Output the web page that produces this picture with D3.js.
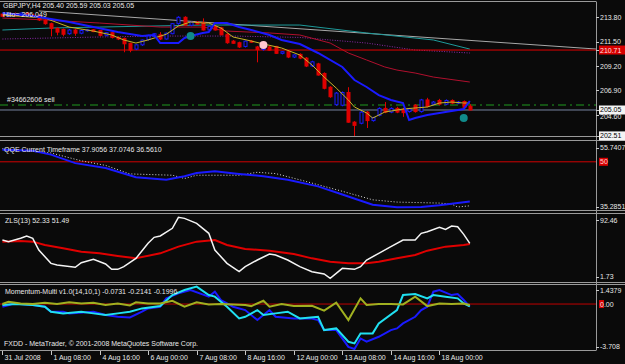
<!DOCTYPE html>
<head>
  <meta charset="utf-8" />
  <script src="https://d3js.org/d3.v7.min.js"></script>
  <style>
    body { margin: 0; background: #0a0a0a; }
    svg { display: block; }
    text { font-family: "Liberation Sans", Arial, sans-serif; font-size: 7px; fill: #e8e8e8; }
  </style>
</head>
<body>
<script>
  // ---- price bars (GBPJPY H4), 78 bars from 31 Jul 00:00 to 18 Aug 20:00
  var opens = [214.10,213.90,214.15,213.95,214.20,214.00,213.95,213.55,213.20,212.75,
    212.65,212.25,212.60,212.30,212.55,212.62,212.55,212.10,212.35,211.90,
    211.80,211.35,210.80,211.20,211.70,212.00,212.15,211.75,212.25,213.20,
    213.80,213.05,213.35,213.30,212.60,212.95,212.80,212.20,211.55,211.40,
    211.05,211.55,211.00,210.75,211.00,211.05,210.40,210.55,210.05,210.30,
    209.95,209.20,209.40,208.50,207.20,205.55,205.50,206.70,203.90,203.80,
    204.85,204.05,204.55,205.20,204.85,205.20,205.10,204.90,205.50,204.90,
    206.00,205.60,205.95,205.60,205.95,205.70,205.85,205.40];
  var highs = [214.20,214.25,214.25,214.25,214.30,214.15,214.05,213.75,213.30,212.85,
    212.75,212.70,212.70,212.65,212.70,212.70,212.60,212.40,212.45,212.00,
    211.90,211.40,211.25,211.70,212.15,212.30,212.40,212.35,213.25,213.90,
    213.90,213.45,213.45,213.70,213.00,213.05,212.90,212.30,211.65,211.50,
    211.60,211.65,211.10,211.05,211.10,211.10,210.60,210.65,210.30,210.40,
    210.05,209.70,209.50,208.60,207.30,206.75,206.80,207.20,204.00,204.95,
    204.95,204.40,205.30,205.80,205.30,205.35,205.25,205.25,205.60,206.10,
    206.20,205.90,206.10,206.05,206.05,205.90,205.95,205.59];
  var lows = [213.85,213.85,213.90,213.90,213.95,213.80,213.45,213.10,212.00,212.10,
    212.00,212.15,212.05,212.20,212.45,212.40,212.00,212.00,211.80,211.65,
    210.50,210.50,210.70,211.10,211.60,211.95,211.65,211.70,212.20,213.10,
    213.00,212.95,213.10,212.55,212.50,212.55,212.10,211.30,211.30,210.90,
    210.95,211.40,209.55,210.65,210.65,210.35,210.30,209.95,209.95,209.85,
    209.10,209.10,208.30,207.00,206.20,205.45,205.40,203.85,202.40,203.70,
    203.35,203.95,204.45,204.75,204.75,204.75,204.40,204.80,204.80,204.80,
    205.30,205.50,205.50,205.50,205.60,205.60,205.20,205.03];
  var closes = [213.90,214.15,213.95,214.20,214.00,213.95,213.55,213.20,212.75,212.40,
    212.20,212.60,212.30,212.55,212.62,212.45,212.10,212.35,211.90,211.75,
    211.30,210.70,211.20,211.65,212.10,212.25,211.75,212.30,213.20,213.80,
    213.05,213.35,213.15,212.60,212.95,212.60,212.15,211.40,211.35,211.00,
    211.55,211.45,210.75,210.95,210.70,210.40,210.55,210.05,210.25,209.95,
    209.20,209.60,208.35,207.10,206.30,206.65,206.70,203.90,203.60,204.85,
    204.05,204.35,205.20,204.85,205.20,204.85,204.80,205.15,204.90,206.00,
    205.40,205.80,205.60,205.95,205.70,205.80,205.30,205.05];

  // moving averages as [bar, price]
  var maFast = [[0,214.02],[7,213.73],[11,212.88],[15,212.5],[18,212.13],[20,211.66],[22,211.37],[24,211.66],
    [27,212.2],[29,212.98],[31,213.36],[33,213.26],[34,213.26],[36,212.79],[38,211.94],[41,211.56],[43,211.28],
    [46,210.9],[49,210.24],[51,209.3],[53,208.16],[55,207.12],[57,205.99],[58,205.33],[60,204.77],[61,204.29],
    [62,204.57],[63,204.86],[64,204.95],[66,205.14],[68,205.24],[70,205.33],[72,205.71],[74,205.8],[76,205.71],[77,205.71]];
  var maMid = [[0,214.2],[5,213.92],[11,213.36],[15,212.88],[19,212.41],[23,212.03],[25,212.13],[26,211.37],
    [29,211.37],[30,211.85],[31,212.03],[33,212.32],[34,212.41],[35,213.26],[37,213.26],[39,212.88],[41,212.6],
    [44,212.13],[46,211.66],[49,211.28],[52,210.43],[56,209.11],[58,207.88],[60,207.22],[62,206.46],[64,205.99],
    [66,205.71],[67,204.1],[68,204.29],[70,204.57],[73,204.86],[76,205.14],[77,205.9]];
  var maSlow = [[0,213.73],[7,213.55],[16,213.26],[26,212.88],[33,212.88],[37,212.5],[44,212.32],[49,212.13],
    [54,211.37],[57,210.43],[60,209.77],[63,209.11],[65,208.82],[68,208.54],[71,208.16],[77,207.69]];
  var maTeal = [[0,212.6],[8,212.79],[16,212.88],[33,213.07],[41,213.07],[49,213.07],[60,212.32],[71,211.66],[77,210.8]];
  var maPurple = [[0,211.75],[16,211.94],[26,212.03],[38,212.03],[49,211.9],[54,211.66],[60,211.37],[68,210.71],[77,210.43]];
  var trendLine = [[6,214.4],[77,211.62]];
  var signalDots = [{bar:31, price:212.03, color:"#108a8a"}, {bar:43, price:211.18, color:"#ffc8d0"}, {bar:76, price:204.29, color:"#108a8a"}];

  var hLine = 210.71, orderLine = 205.52, bidLine = 205.05;
  var priceTicks = [213.80, 211.50, 209.20, 206.90, 204.60];

  // QQE
  var qqeMain = [[0,53.7],[5,53.4],[8,52.2],[12,49.6],[17,48.1],[22,45.3],[27,44.5],[30,45.6],[32,46.6],[35,47.1],
    [39,46.3],[43,45.6],[47,44.5],[52,42.5],[56,40.0],[61,36.9],[65,36.1],[69,36.2],[72,36.7],[74,37.2],[77,37.9]];
  var qqeSlow = [[0,54.0],[8,52.7],[13,50.3],[17,48.9],[21,46.3],[28,45.9],[30,44.9],[32,45.9],[39,45.9],[42,46.8],
    [45,46.4],[49,44.5],[52,43.0],[56,41.0],[61,38.4],[65,37.7],[72,37.4],[74,37.1],[75,36.2],[77,36.56]];

  // ZLS(13)
  var zlsFast = [[0,57.0],[1,54.7],[3,59.4],[4,62.7],[5,59.4],[6,42.8],[8,23.9],[9,21.6],[12,18.3],[13,24.9],[15,29.6],
    [17,23.0],[18,15.4],[19,15.4],[20,19.2],[22,31.0],[24,52.3],[25,60.8],[26,62.7],[28,73.6],[29,89.2],[30,87.7],
    [32,80.6],[34,66.5],[35,42.8],[37,23.9],[39,12.1],[40,19.2],[42,28.7],[44,37.2],[45,35.8],[47,28.7],[49,19.2],
    [51,12.1],[53,8.8],[54,2.67],[56,16.8],[58,15.4],[59,19.2],[60,28.7],[62,38.1],[64,47.6],[66,57.0],[68,57.0],
    [69,66.5],[70,68.8],[72,75.0],[73,72.1],[74,76.9],[75,75.9],[76,65.0],[77,52.33]];
  var zlsSlow = [[0,54.7],[3,55.6],[5,54.7],[7,49.9],[10,45.2],[13,40.5],[16,38.1],[19,34.3],[22,31.0],[26,38.1],
    [29,47.6],[32,54.7],[35,57.0],[37,49.9],[40,44.3],[44,41.9],[48,37.2],[51,31.0],[54,26.3],[57,23.9],[60,23.9],
    [62,26.3],[65,31.0],[68,35.8],[70,41.9],[73,47.6],[76,50.0],[77,51.49]];

  // Momentum-Multi
  var momSlow = [[0,0.0],[1,0.19],[3,0.05],[5,0.0],[7,0.11],[9,0.0],[11,0.14],[13,0.05],[15,0.11],[17,-0.08],[19,0.05],
    [21,-0.11],[22,0.14],[24,0.05],[26,0.05],[28,0.27],[30,-0.22],[32,0.14],[34,-0.03],[36,0.0],[38,-0.03],[40,-0.08],
    [41,-0.17],[43,0.27],[44,-0.22],[46,0.0],[48,-0.17],[51,-0.14],[53,-0.55],[55,0.11],[57,-1.32],[59,0.47],[60,-0.08],
    [62,0.0],[64,0.0],[66,-0.03],[68,0.61],[70,-0.17],[72,0.05],[74,0.0],[76,0.05],[77,-0.0731]];
  var momBlue = [[0,-0.22],[2,0.05],[5,-0.08],[7,-0.22],[8,-0.63],[10,-0.63],[11,-0.77],[15,-0.63],[17,-0.91],[19,-1.05],
    [21,-1.10],[23,-0.63],[24,-0.36],[26,-0.22],[27,0.47],[29,0.88],[31,1.16],[34,0.61],[35,1.02],[36,0.33],[38,-0.22],
    [40,-0.50],[42,-1.32],[44,-0.50],[45,-1.05],[48,-1.19],[51,-1.19],[52,-1.32],[53,-2.15],[55,-2.15],[57,-3.53],
    [58,-3.708],[59,-2.84],[60,-3.11],[62,-2.70],[64,-2.15],[65,-2.01],[66,-1.60],[68,-1.05],[69,-0.50],[70,-0.22],
    [71,1.02],[72,1.16],[74,0.74],[75,0.83],[76,0.33],[77,-0.2141]];
  var momCyan = [[0,-0.08],[2,0.0],[5,-0.08],[7,-0.22],[8,-0.63],[10,-0.77],[13,-0.63],[15,-0.77],[17,-0.91],[19,-0.77],
    [21,-0.63],[23,-0.36],[26,-0.17],[28,0.74],[30,1.16],[32,1.4379],[34,0.74],[35,0.61],[37,-0.22],[39,-1.19],[40,-1.05],
    [42,-0.50],[43,-0.91],[45,-0.77],[47,-0.63],[49,-1.19],[52,-1.05],[53,-2.15],[55,-2.01],[57,-3.11],[58,-3.25],
    [59,-2.42],[61,-2.42],[62,-1.60],[65,-0.50],[66,0.74],[68,0.83],[70,0.47],[71,0.74],[73,0.61],[75,0.47],[76,0.05],[77,-0.1996]];

  var timeLabels = ["31 Jul 2008","1 Aug 08:00","4 Aug 16:00","6 Aug 00:00","7 Aug 08:00","8 Aug 16:00",
    "12 Aug 00:00","13 Aug 08:00","14 Aug 16:00","18 Aug 00:00"];
  var timeLabelBars = [0,8,16,24,32,40,48,56,64,72];

  // ---- layout
  var width = 625, height = 364, plotRight = 596;
  var svg = d3.select("body").append("svg").attr("width", width).attr("height", height);
  svg.append("rect").attr("width", width).attr("height", height).attr("fill", "#0a0a0a");

  var x = d3.scaleLinear().domain([0, 77]).range([2.4, 469.8]);
  var yMain = d3.scaleLinear().domain([202.51, 215.15]).range([136.9, 3]);
  var yQqe = d3.scaleLinear().domain([35.2851, 55.7407]).range([210, 143]);
  var yZls = d3.scaleLinear().domain([1.73, 92.46]).range([279, 215]);
  var yMom = d3.scaleLinear().domain([-3.708, 1.4379]).range([349, 286.6]);

  var panels = [["main", 3, 136.5], ["qqe", 141.5, 211], ["zls", 213.5, 282.5], ["mom", 284.5, 350.5]];
  var defs = svg.append("defs");
  var layer = {};
  panels.forEach(function (p) {
    defs.append("clipPath").attr("id", "clip-" + p[0])
      .append("rect").attr("x", 0).attr("y", p[1]).attr("width", plotRight).attr("height", p[2] - p[1]);
    layer[p[0]] = svg.append("g").attr("clip-path", "url(#clip-" + p[0] + ")");
  });

  function drawLine(g, data, yScale, color, w, dash) {
    var line = d3.line().x(function (d) { return x(d[0]); }).y(function (d) { return yScale(d[1]); });
    g.append("path").datum(data).attr("d", line).attr("fill", "none")
      .attr("stroke", color).attr("stroke-width", w).attr("stroke-dasharray", dash || null);
  }
  function hRule(g, y, color, w, dash) {
    g.append("line").attr("x1", 0).attr("x2", plotRight).attr("y1", y).attr("y2", y)
      .attr("stroke", color).attr("stroke-width", w).attr("stroke-dasharray", dash || null);
  }

  // ---- main window
  var m = layer.main;
  // trend line extended to the right edge
  var slope = (trendLine[1][1] - trendLine[0][1]) / (trendLine[1][0] - trendLine[0][0]);
  var edgeBar = x.invert(plotRight);
  drawLine(m, [trendLine[0], [edgeBar, trendLine[0][1] + slope * (edgeBar - trendLine[0][0])]], yMain, "#a8a8a8", 1);
  drawLine(m, maTeal, yMain, "#1e9a9a", 1);
  drawLine(m, maPurple, yMain, "#8a2aa8", 1, "1,1.5");
  drawLine(m, maSlow, yMain, "#b0102e", 1);
  hRule(m, yMain(hLine), "#e00000", 1);
  hRule(m, yMain(orderLine), "#1f9a1f", 1, "8,4,2,4");
  hRule(m, yMain(bidLine), "#7884a0", 1);

  var bars = d3.range(opens.length).map(function (i) {
    return { i: i, o: opens[i], h: highs[i], l: lows[i], c: closes[i] };
  });
  var cg = m.selectAll("g.bar").data(bars).enter().append("g");
  cg.append("line")
    .attr("x1", function (d) { return Math.round(x(d.i)) + 0.5; })
    .attr("x2", function (d) { return Math.round(x(d.i)) + 0.5; })
    .attr("y1", function (d) { return yMain(d.h); })
    .attr("y2", function (d) { return yMain(d.l); })
    .attr("stroke", function (d) { return d.c >= d.o ? "#1a1aff" : "#e00000"; });
  cg.append("rect")
    .attr("x", function (d) { return Math.round(x(d.i)) - 1; })
    .attr("y", function (d) { return yMain(Math.max(d.o, d.c)); })
    .attr("width", 3)
    .attr("height", function (d) { return Math.max(1, Math.abs(yMain(d.o) - yMain(d.c))); })
    .attr("fill", function (d) { return d.c >= d.o ? "#0a0a0a" : "#e00000"; })
    .attr("stroke", function (d) { return d.c >= d.o ? "#1a1aff" : "#e00000"; })
    .attr("stroke-width", 1);

  drawLine(m, maFast, yMain, "#c8b428", 1);
  drawLine(m, maMid, yMain, "#1a1aff", 2);

  m.selectAll("circle.sig").data(signalDots).enter().append("circle")
    .attr("cx", function (d) { return x(d.bar); })
    .attr("cy", function (d) { return yMain(d.price); })
    .attr("r", 4).attr("fill", function (d) { return d.color; });

  // ---- QQE window
  var q = layer.qqe;
  hRule(q, yQqe(50), "#d00000", 1);
  drawLine(q, qqeSlow, yQqe, "#d8d8d8", 1, "1,2");
  drawLine(q, qqeMain, yQqe, "#1a1aff", 2);

  // ---- ZLS window
  var z = layer.zls;
  drawLine(z, zlsSlow, yZls, "#e00000", 2);
  drawLine(z, zlsFast, yZls, "#f4f4f4", 1.5);

  // ---- Momentum window
  var mo = layer.mom;
  hRule(mo, yMom(0), "#c00000", 1);
  drawLine(mo, momBlue, yMom, "#1a1aff", 2);
  drawLine(mo, momCyan, yMom, "#20e0f0", 2);
  drawLine(mo, momSlow, yMom, "#a0b020", 2);

  // ---- frames and separators
  var frame = svg.append("g").attr("stroke", "#9a9a9a").attr("stroke-width", 1).attr("fill", "none");
  frame.append("line").attr("x1", 0).attr("x2", plotRight).attr("y1", 1.5).attr("y2", 1.5);
  [[136.5, 140.5], [210.5, 213.5], [282.5, 284.5]].forEach(function (s) {
    s.forEach(function (yy) {
      frame.append("line").attr("x1", 0).attr("x2", width).attr("y1", yy).attr("y2", yy);
    });
  });
  frame.append("line").attr("x1", 0).attr("x2", plotRight).attr("y1", 350.5).attr("y2", 350.5);
  frame.append("line").attr("x1", plotRight + 0.5).attr("x2", plotRight + 0.5).attr("y1", 1.5).attr("y2", 350.5);

  // ---- right-hand price labels
  function axisLabel(y, txt, box, boxText, dy) {
    svg.append("line").attr("x1", plotRight).attr("x2", plotRight + 3).attr("y1", Math.round(y) + 0.5).attr("y2", Math.round(y) + 0.5)
      .attr("stroke", "#c8c8c8");
    if (box) {
      svg.append("rect").attr("x", plotRight + 3).attr("y", y - 4.5).attr("width", 27).attr("height", 9).attr("fill", box);
    }
    svg.append("text").attr("x", plotRight + 4).attr("y", y + 2.5 + (dy || 0)).text(txt)
      .style("fill", boxText || "#e8e8e8");
  }
  priceTicks.forEach(function (p) { axisLabel(yMain(p), p.toFixed(2), null, null, p === 204.60 ? 1.5 : 0); });
  axisLabel(yMain(hLine), hLine.toFixed(2), "#d80000", "#ffe0e0");
  axisLabel(yMain(bidLine), bidLine.toFixed(2), "#f4f4f4", "#000");
  axisLabel(yMain(202.51) - 1, "202.51", "#f4f4f4", "#000");

  axisLabel(147.5, "55.7407");
  svg.append("rect").attr("x", plotRight + 3).attr("y", yQqe(50) - 4).attr("width", 9).attr("height", 8).attr("fill", "#d80000");
  svg.append("text").attr("x", plotRight + 4).attr("y", yQqe(50) + 2.5).text("50").style("fill", "#ffd0d0");
  axisLabel(206.5, "35.2851");

  axisLabel(220, "92.46");
  axisLabel(276.5, "1.73");

  axisLabel(290, "1.4379");
  svg.append("rect").attr("x", plotRight + 3).attr("y", yMom(0) - 4).attr("width", 5).attr("height", 8).attr("fill", "#d80000");
  svg.append("text").attr("x", plotRight + 4).attr("y", yMom(0) + 2.5).text("0.00");
  axisLabel(346.5, "-3.708");

  // ---- time axis
  timeLabelBars.forEach(function (b, k) {
    var tx = Math.round(x(b)) + 0.5;
    svg.append("line").attr("x1", tx).attr("x2", tx).attr("y1", 351).attr("y2", 355).attr("stroke", "#c8c8c8");
    svg.append("text").attr("x", tx + 2).attr("y", 360).text(timeLabels[k]);
  });

  // ---- window captions
  svg.append("text").attr("x", 3).attr("y", 8).text("GBPJPY,H4  205.40 205.59 205.03 205.05");
  svg.append("text").attr("x", 3).attr("y", 17).text("Hlto=  206.049");
  svg.append("text").attr("x", 7).attr("y", 102).text("#34662606 sell");
  svg.append("text").attr("x", 4).attr("y", 152).text("QQE Current Timeframe 37.9056 37.0746 36.5610");
  svg.append("text").attr("x", 5).attr("y", 223).text("ZLS(13) 52.33 51.49");
  svg.append("text").attr("x", 5).attr("y", 294).text("Momentum-Multi v1.0(14,10,1) -0.0731 -0.2141 -0.1996");
  svg.append("text").attr("x", 4).attr("y", 346).text("FXDD - MetaTrader, \u00a9 2001-2008 MetaQuotes Software Corp.");
</script>
</body>
